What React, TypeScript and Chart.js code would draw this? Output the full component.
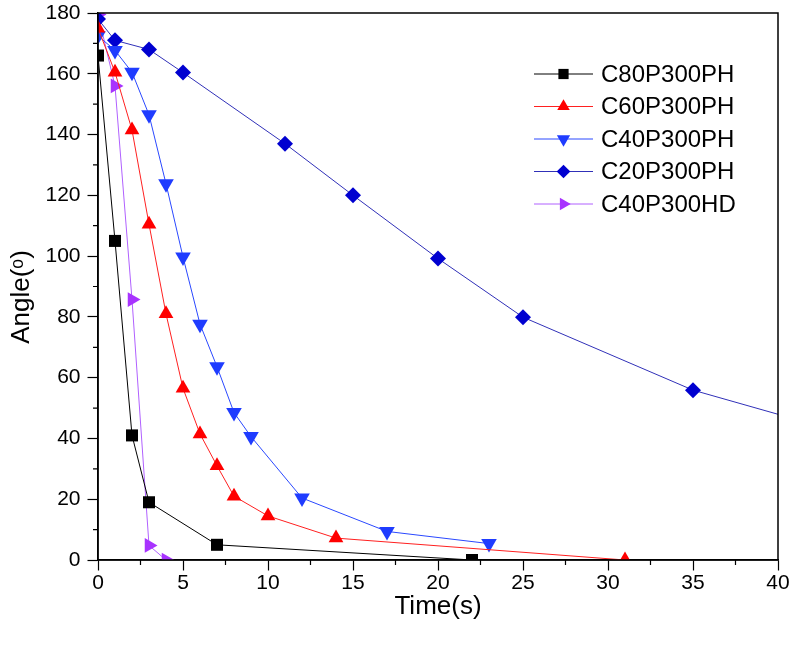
import React, { useEffect, useRef } from "react";
import { Chart, registerables } from "chart.js";

Chart.register(...registerables);

const c80Time = [0, 1, 2, 3, 7, 22];
const c80Angle = [166, 105, 41, 19, 5, 0];

const c60Time = [0, 1, 2, 3, 4, 5, 6, 7, 8, 10, 14, 31];
const c60Angle = [175, 160.5, 141.5, 110.5, 81, 56.5, 41.5, 31, 21, 14.5, 7.2, 0];

const c40Time = [0, 1, 2, 3, 4, 5, 6, 7, 8, 9, 12, 17, 23];
const c40Angle = [172.5, 167.7, 160.5, 146.5, 123.8, 99.7, 77.6, 63.6, 48.5, 40.6, 20.4, 9.4, 5.4];

const c20Time = [0, 1, 3, 5, 11, 15, 20, 25, 35, 45];
const c20Angle = [178, 171, 168, 160.4, 137, 120, 99.2, 79.9, 55.9, 40];

const hdTime = [0, 1, 2, 3, 4];
const hdAngle = [179.5, 156, 85.7, 4.8, 0];

const seriesNames = ["C80P300PH", "C60P300PH", "C40P300PH", "C20P300PH", "C40P300HD"];
const xTicks = [0, 5, 10, 15, 20, 25, 30, 35, 40];
const yTicks = [0, 20, 40, 60, 80, 100, 120, 140, 160, 180];
const xTitle = "Time(s)";
const yTitle = "Angle(ᵒ)";

const pts = (xs: number[], ys: number[]) => xs.map((x, i) => ({ x, y: ys[i] }));

const FONT = "'Liberation Sans', Arial, sans-serif";

const styles = [
  { line: "#000000", fill: "#000000", style: "rect", rot: 0, r: 8.5 },
  { line: "#ff2020", fill: "#ff0000", style: "triangle", rot: 0, r: 8.5 },
  { line: "#2a48ff", fill: "#1f3cff", style: "triangle", rot: 180, r: 9 },
  { line: "#3030b8", fill: "#0000d0", style: "rectRot", rot: 0, r: 8 },
  { line: "#b060ff", fill: "#a833ff", style: "triangle", rot: 90, r: 8.5 },
];

function drawMarker(ctx: CanvasRenderingContext2D, style: string, r: number, rot: number, x: number, y: number) {
  ctx.save();
  ctx.translate(x, y);
  ctx.rotate((rot * Math.PI) / 180);
  ctx.beginPath();
  if (style === "rect") {
    const s = Math.SQRT1_2 * r;
    ctx.rect(-s, -s, 2 * s, 2 * s);
  } else if (style === "rectRot") {
    ctx.moveTo(0, -r);
    ctx.lineTo(r, 0);
    ctx.lineTo(0, r);
    ctx.lineTo(-r, 0);
    ctx.closePath();
  } else {
    for (let k = 0; k < 3; k++) {
      const ang = -Math.PI / 2 + (k * 2 * Math.PI) / 3;
      const px = Math.cos(ang) * r;
      const py = Math.sin(ang) * r;
      if (k === 0) ctx.moveTo(px, py);
      else ctx.lineTo(px, py);
    }
    ctx.closePath();
  }
  ctx.fill();
  ctx.restore();
}

const clipPlugin = {
  id: "clipData",
  beforeDatasetsDraw(chart: any) {
    const { ctx, chartArea } = chart;
    ctx.save();
    ctx.beginPath();
    ctx.rect(chartArea.left, chartArea.top, chartArea.right - chartArea.left, chartArea.bottom - chartArea.top);
    ctx.clip();
  },
  afterDatasetsDraw(chart: any) {
    chart.ctx.restore();
  },
};

const framePlugin = {
  id: "frameAndLegend",
  afterDraw(chart: any) {
    const { ctx, chartArea } = chart;
    const xs = chart.scales.x;
    const ys = chart.scales.y;
    ctx.save();
    ctx.strokeStyle = "#000";
    ctx.lineWidth = 1.5;
    ctx.beginPath();
    ctx.moveTo(chartArea.left, chartArea.bottom);
    ctx.lineTo(chartArea.left, chartArea.top);
    ctx.lineTo(chartArea.right, chartArea.top);
    ctx.lineTo(chartArea.right, chartArea.bottom);
    ctx.lineTo(chartArea.left, chartArea.bottom);
    ctx.stroke();
    // minor ticks
    ctx.lineWidth = 1.2;
    ctx.beginPath();
    for (let v = 2.5; v < 40; v += 5) {
      const px = xs.getPixelForValue(v);
      ctx.moveTo(px, chartArea.bottom);
      ctx.lineTo(px, chartArea.bottom + 5);
    }
    for (let v = 10; v < 180; v += 20) {
      const py = ys.getPixelForValue(v);
      ctx.moveTo(chartArea.left, py);
      ctx.lineTo(chartArea.left - 5, py);
    }
    ctx.stroke();
    // axis titles
    ctx.fillStyle = "#000";
    ctx.font = `26px ${FONT}`;
    ctx.textAlign = "center";
    ctx.textBaseline = "middle";
    ctx.fillText(xTitle, (chartArea.left + chartArea.right) / 2, 607);
    ctx.save();
    ctx.translate(22, 297);
    ctx.rotate(-Math.PI / 2);
    ctx.fillText(yTitle, 0, 0);
    ctx.restore();
    // legend
    const lx0 = 534, lx1 = 593, mx = 563.5, tx = 601;
    const rowY0 = 74, rowStep = 32.5;
    ctx.font = `24px ${FONT}`;
    ctx.textBaseline = "middle";
    ctx.textAlign = "left";
    chart.data.datasets.forEach((ds: any, i: number) => {
      const y = rowY0 + i * rowStep;
      const st = styles[i];
      ctx.strokeStyle = st.line;
      ctx.lineWidth = 1;
      ctx.beginPath();
      ctx.moveTo(lx0, y);
      ctx.lineTo(lx1, y);
      ctx.stroke();
      ctx.fillStyle = st.fill;
      drawMarker(ctx, st.style, st.r * 0.85, st.rot, mx, y);
      ctx.fillStyle = "#000";
      ctx.fillText(ds.label, tx, y + 1);
    });
    ctx.restore();
  },
};

const zeroPad = (s: any) => {
  s.paddingLeft = 0;
  s.paddingRight = 0;
  s.paddingTop = 0;
  s.paddingBottom = 0;
};

export default function App() {
  const ref = useRef<HTMLCanvasElement | null>(null);
  useEffect(() => {
    document.body.style.margin = "0";
    const canvas = ref.current!;
    const data = [
      pts(c80Time, c80Angle),
      pts(c60Time, c60Angle),
      pts(c40Time, c40Angle),
      pts(c20Time, c20Angle),
      pts(hdTime, hdAngle),
    ];
    const chart = new Chart(canvas, {
      type: "line",
      data: {
        datasets: data.map((d, i) => ({
          label: seriesNames[i],
          data: d,
          borderColor: styles[i].line,
          backgroundColor: styles[i].fill,
          borderWidth: 1,
          pointStyle: styles[i].style as any,
          pointRotation: styles[i].rot,
          pointRadius: styles[i].r,
          pointBorderWidth: 0,
          pointBackgroundColor: styles[i].fill,
          pointBorderColor: styles[i].fill,
          tension: 0,
          clip: 0,
        })),
      },
      options: {
        animation: false,
        responsive: false,
        devicePixelRatio: 1,
        layout: { padding: { top: 13, right: 14, left: 0, bottom: 0 } },
        plugins: { legend: { display: false }, tooltip: { enabled: false } },
        scales: {
          x: {
            type: "linear",
            min: 0,
            max: 40,
            afterBuildTicks: (s: any) => {
              s.ticks = xTicks.map((v) => ({ value: v }));
            },
            afterFit: (s: any) => {
              s.height = 86;
              zeroPad(s);
            },
            grid: { drawOnChartArea: false, tickLength: 10.5, tickColor: "#000", tickWidth: 1.2 },
            border: { color: "#000", width: 1.5 },
            ticks: { color: "#000", font: { family: FONT, size: 21 }, padding: 0, maxRotation: 0 },
          },
          y: {
            type: "linear",
            min: 0,
            max: 180,
            afterBuildTicks: (s: any) => {
              s.ticks = yTicks.map((v) => ({ value: v }));
            },
            afterFit: (s: any) => {
              s.width = 98;
              zeroPad(s);
            },
            grid: { drawOnChartArea: false, tickLength: 10.5, tickColor: "#000", tickWidth: 1.2 },
            border: { color: "#000", width: 1.5 },
            ticks: { color: "#000", font: { family: FONT, size: 21 }, padding: 7 },
          },
        },
      },
      plugins: [clipPlugin, framePlugin],
    });
    return () => chart.destroy();
  }, []);
  return (
    <div style={{ position: "fixed", left: 0, top: 0, width: 792, height: 646, background: "#fff" }}>
      <canvas ref={ref} width={792} height={646} style={{ width: 792, height: 646, display: "block" }} />
    </div>
  );
}
